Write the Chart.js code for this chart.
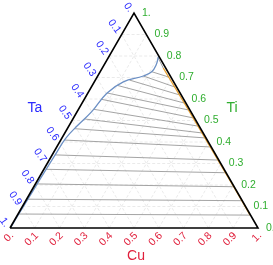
<!DOCTYPE html>
<html>
<head>
<meta charset="utf-8">
<script src="https://cdn.jsdelivr.net/npm/chart.js@4/dist/chart.umd.min.js"></script>
<style>
  html, body { margin: 0; padding: 0; background: #fff; }
  #wrap { width: 273px; height: 265px; }
</style>
</head>
<body>
<div id="wrap"><canvas id="ternary" width="273" height="265"></canvas></div>
<script>
// ternary axis ticks
const tickValues = [0, 0.1, 0.2, 0.3, 0.4, 0.5, 0.6, 0.7, 0.8, 0.9, 1];
const tickLabels = ['0.', '0.1', '0.2', '0.3', '0.4', '0.5', '0.6', '0.7', '0.8', '0.9', '1.'];
const axisNames = ['Ta', 'Ti', 'Cu'];

// blue boundary (Ti, Cu fractions), top to bottom
const blueTi = [0.797, 0.758, 0.727, 0.707, 0.680, 0.627, 0.541, 0.479, 0.417, 0.340, 0.273, 0.205, 0.134, 0.065, 0.0];
const blueCu = [0.200, 0.210, 0.208, 0.184, 0.117, 0.077, 0.059, 0.035, 0.016, 0.012, 0.009, 0.007, 0.005, 0.003, 0.002];

// orange boundary near Cu-Ti edge (Ti, Ta fractions)
const orangeTi = [0.744, 0.65, 0.55, 0.45, 0.35, 0.25, 0.15, 0.06];
const orangeTa = [0.010, 0.008, 0.006, 0.005, 0.004, 0.003, 0.002, 0.002];

// tie lines: left end (Ti, Cu) on blue, right end (Ti, Ta) on orange
const tieTiL = [0.791, 0.727, 0.707, 0.688, 0.663, 0.628, 0.598, 0.552, 0.507, 0.462, 0.409, 0.340, 0.273, 0.205, 0.134, 0.065];
const tieCuL = [0.202, 0.208, 0.184, 0.138, 0.102, 0.077, 0.072, 0.062, 0.047, 0.028, 0.016, 0.012, 0.009, 0.007, 0.005, 0.003];
const tieTiR = [0.744, 0.702, 0.656, 0.619, 0.581, 0.549, 0.512, 0.474, 0.442, 0.419, 0.377, 0.316, 0.257, 0.192, 0.127, 0.060];
const tieTaR = [0.010, 0.009, 0.008, 0.007, 0.006, 0.006, 0.005, 0.005, 0.004, 0.004, 0.003, 0.003, 0.002, 0.002, 0.002, 0.002];

const H = Math.sqrt(3) / 2;
// composition -> cartesian (Cu to the right, Ti up)
function pt(cu, ti) { return { x: cu + ti / 2, y: ti * H }; }

function lineSet(data, color, width, order, dash) {
  return {
    data, showLine: true, borderColor: color, borderWidth: width,
    borderDash: dash || [], pointRadius: 0, fill: false, clip: false, order
  };
}

const datasets = [];

// dashed grid
for (const v of tickValues.slice(1, -1)) {
  datasets.push(lineSet([pt(0, v), pt(1 - v, v)], '#e4e4e4', 0.8, 5, [3, 2]));
  datasets.push(lineSet([pt(v, 0), pt(v, 1 - v)], '#e4e4e4', 0.8, 5, [3, 2]));
  datasets.push(lineSet([pt(1 - v, 0), pt(0, 1 - v)], '#e4e4e4', 0.8, 5, [3, 2]));
}

// tie lines
tieTiL.forEach((ti, i) => {
  const tr = tieTiR[i];
  datasets.push(lineSet([pt(tieCuL[i], ti), pt(1 - tr - tieTaR[i], tr)], '#9a9a9a', 0.9, 4));
});

// boundaries
datasets.push({ ...lineSet(blueTi.map((t, i) => pt(blueCu[i], t)), '#6b8fc4', 1.3, 2), tension: 0.4 });
datasets.push(lineSet(orangeTi.map((t, i) => pt(1 - t - orangeTa[i], t)), '#e8a030', 1.3, 1));

// triangle frame
datasets.push(lineSet([pt(0, 0), pt(1, 0), pt(0, 1), pt(0, 0)], '#000', 1.6, 0));

const labelPlugin = {
  id: 'ternaryLabels',
  afterDatasetsDraw(chart) {
    const { ctx, scales } = chart;
    const px = p => [scales.x.getPixelForValue(p.x), scales.y.getPixelForValue(p.y)];
    ctx.save();
    ctx.font = '10.5px "Liberation Sans", Arial, sans-serif';
    tickValues.forEach((v, i) => {
      // Ta on the left edge (0 at top)
      let [x, y] = px(pt(0, 1 - v));
      ctx.save();
      ctx.translate(x - 3, y - 2);
      ctx.rotate(Math.PI * 55 / 180);
      ctx.fillStyle = '#2b2bff';
      ctx.textAlign = 'right';
      ctx.textBaseline = 'middle';
      ctx.fillText(tickLabels[i], 0, 0);
      ctx.restore();

      // Ti on the right edge
      [x, y] = px(pt(1 - v, v));
      ctx.fillStyle = '#2fae2f';
      ctx.textAlign = 'left';
      ctx.textBaseline = 'middle';
      ctx.fillText(tickLabels[i], x + 8, y);

      // Cu along the bottom
      [x, y] = px(pt(v, 0));
      ctx.save();
      ctx.translate(x + 2, y + 6);
      ctx.rotate(-Math.PI / 4);
      ctx.fillStyle = '#e0203c';
      ctx.textAlign = 'right';
      ctx.textBaseline = 'middle';
      ctx.fillText(tickLabels[i], 0, 0);
      ctx.restore();
    });

    ctx.font = '14px "Liberation Sans", Arial, sans-serif';
    ctx.textAlign = 'center';
    ctx.textBaseline = 'middle';
    ctx.fillStyle = '#2b2bff';
    ctx.fillText(axisNames[0], 35, 108);
    ctx.fillStyle = '#2fae2f';
    ctx.fillText(axisNames[1], 232, 108);
    ctx.fillStyle = '#e0203c';
    ctx.fillText(axisNames[2], 136, 256);
    ctx.restore();
  }
};

new Chart(document.getElementById('ternary'), {
  type: 'scatter',
  data: { datasets },
  options: {
    responsive: false,
    animation: false,
    layout: { padding: { left: 10, right: 15, top: 13, bottom: 37 } },
    plugins: { legend: { display: false }, tooltip: { enabled: false } },
    scales: {
      x: { type: 'linear', min: 0, max: 1, display: false },
      y: { type: 'linear', min: 0, max: H, display: false }
    }
  },
  plugins: [labelPlugin]
});
</script>
</body>
</html>
